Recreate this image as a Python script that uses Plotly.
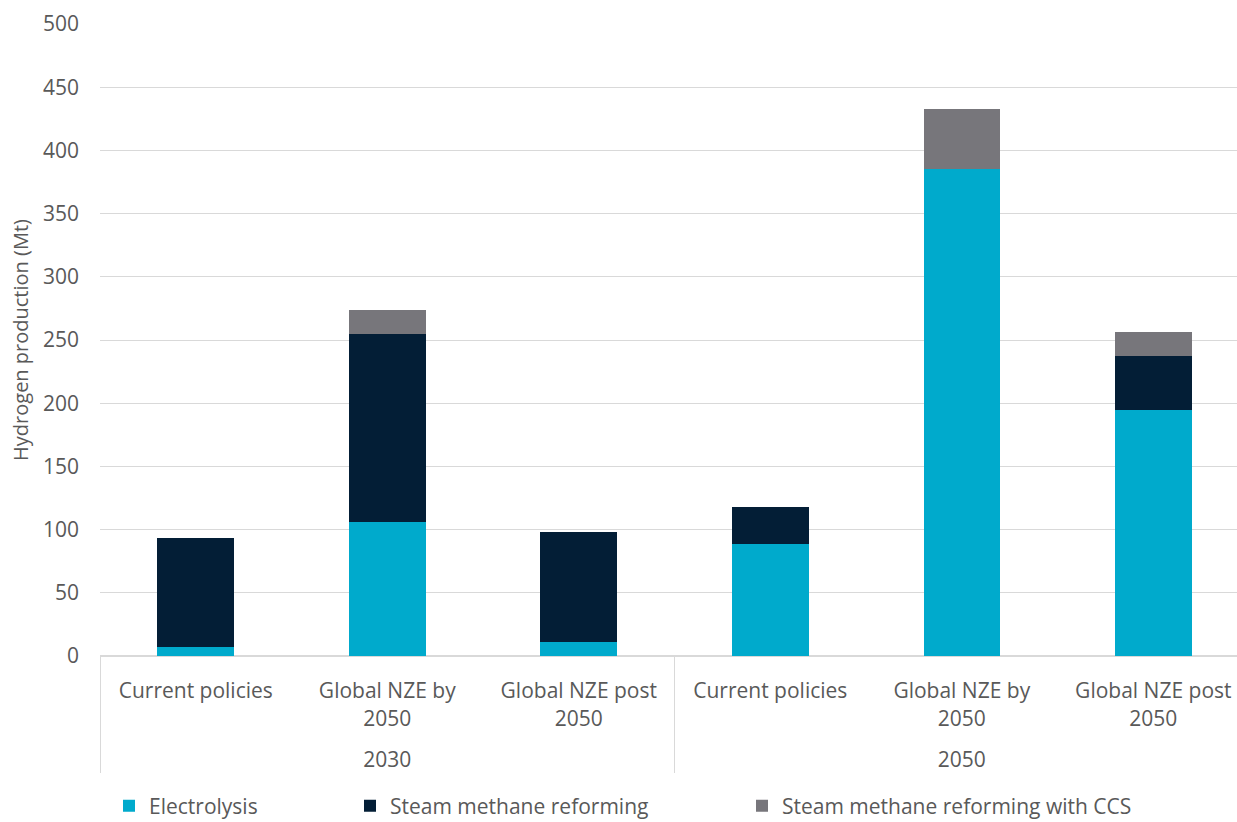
import plotly.graph_objects as go

years = ["2030", "2030", "2030", "2050", "2050", "2050"]
scenarios = ["Current policies", "Global NZE by<br>2050<br> ", "Global NZE post<br>2050<br> ",
             "Current policies", "Global NZE by<br>2050<br> ", "Global NZE post<br>2050<br> "]
electrolysis = [7, 106, 11, 89, 385, 195]
smr = [86, 149, 87, 29, 0, 42]
smr_ccs = [0, 19, 0, 0, 48, 19]

series = [
    ("Electrolysis", electrolysis, "#00AACC", "legend"),
    ("Steam methane reforming", smr, "#031E36", "legend2"),
    ("Steam methane reforming with CCS", smr_ccs, "#77767B", "legend3"),
]

FONT = "Open Sans"
TXT = "#595959"

fig = go.Figure()
for name, vals, col, lg in series:
    fig.add_trace(go.Bar(
        x=[years, scenarios], y=vals, name=name,
        marker=dict(color=col, line=dict(width=0)),
        legend=lg, showlegend=True,
    ))

leg_common = dict(orientation="h", yanchor="middle", xanchor="left",
                  xref="container", yref="container", visible=True,
                  font=dict(family=FONT, size=21, color=TXT),
                  bgcolor="rgba(0,0,0,0)", itemwidth=30)

fig.update_layout(
    barmode="stack",
    bargap=0.6,
    showlegend=True,
    width=1237, height=822,
    margin=dict(l=100, r=0, t=24, b=166, autoexpand=False),
    paper_bgcolor="white", plot_bgcolor="white",
    font=dict(family=FONT, size=21, color=TXT),
    legend=dict(**leg_common, x=109 / 1237, y=1 - 806 / 822),
    legend2=dict(**leg_common, x=350 / 1237, y=1 - 806 / 822),
    legend3=dict(**leg_common, x=742 / 1237, y=1 - 806 / 822),
    xaxis=dict(
        type="multicategory",
        range=[-0.5, 5.437],
        automargin=False,
        showgrid=False,
        showline=True, linecolor="#D9D9D9", linewidth=1,
        showdividers=True, dividercolor="#D9D9D9", dividerwidth=1,
        tickfont=dict(family=FONT, size=21, color=TXT),
        ticks="",
        ticklabelstandoff=16,
    ),
    yaxis=dict(
        range=[0, 500], dtick=50,
        automargin=False,
        showgrid=True, gridcolor="#D9D9D9", gridwidth=1,
        zeroline=True, zerolinecolor="#D9D9D9",
        tickfont=dict(family=FONT, size=21, color=TXT),
        ticklabelstandoff=20,
        title=dict(text="Hydrogen production (Mt)",
                   font=dict(family=FONT, size=20, color=TXT), standoff=8),
    ),
)

fig.write_html("out.html")
